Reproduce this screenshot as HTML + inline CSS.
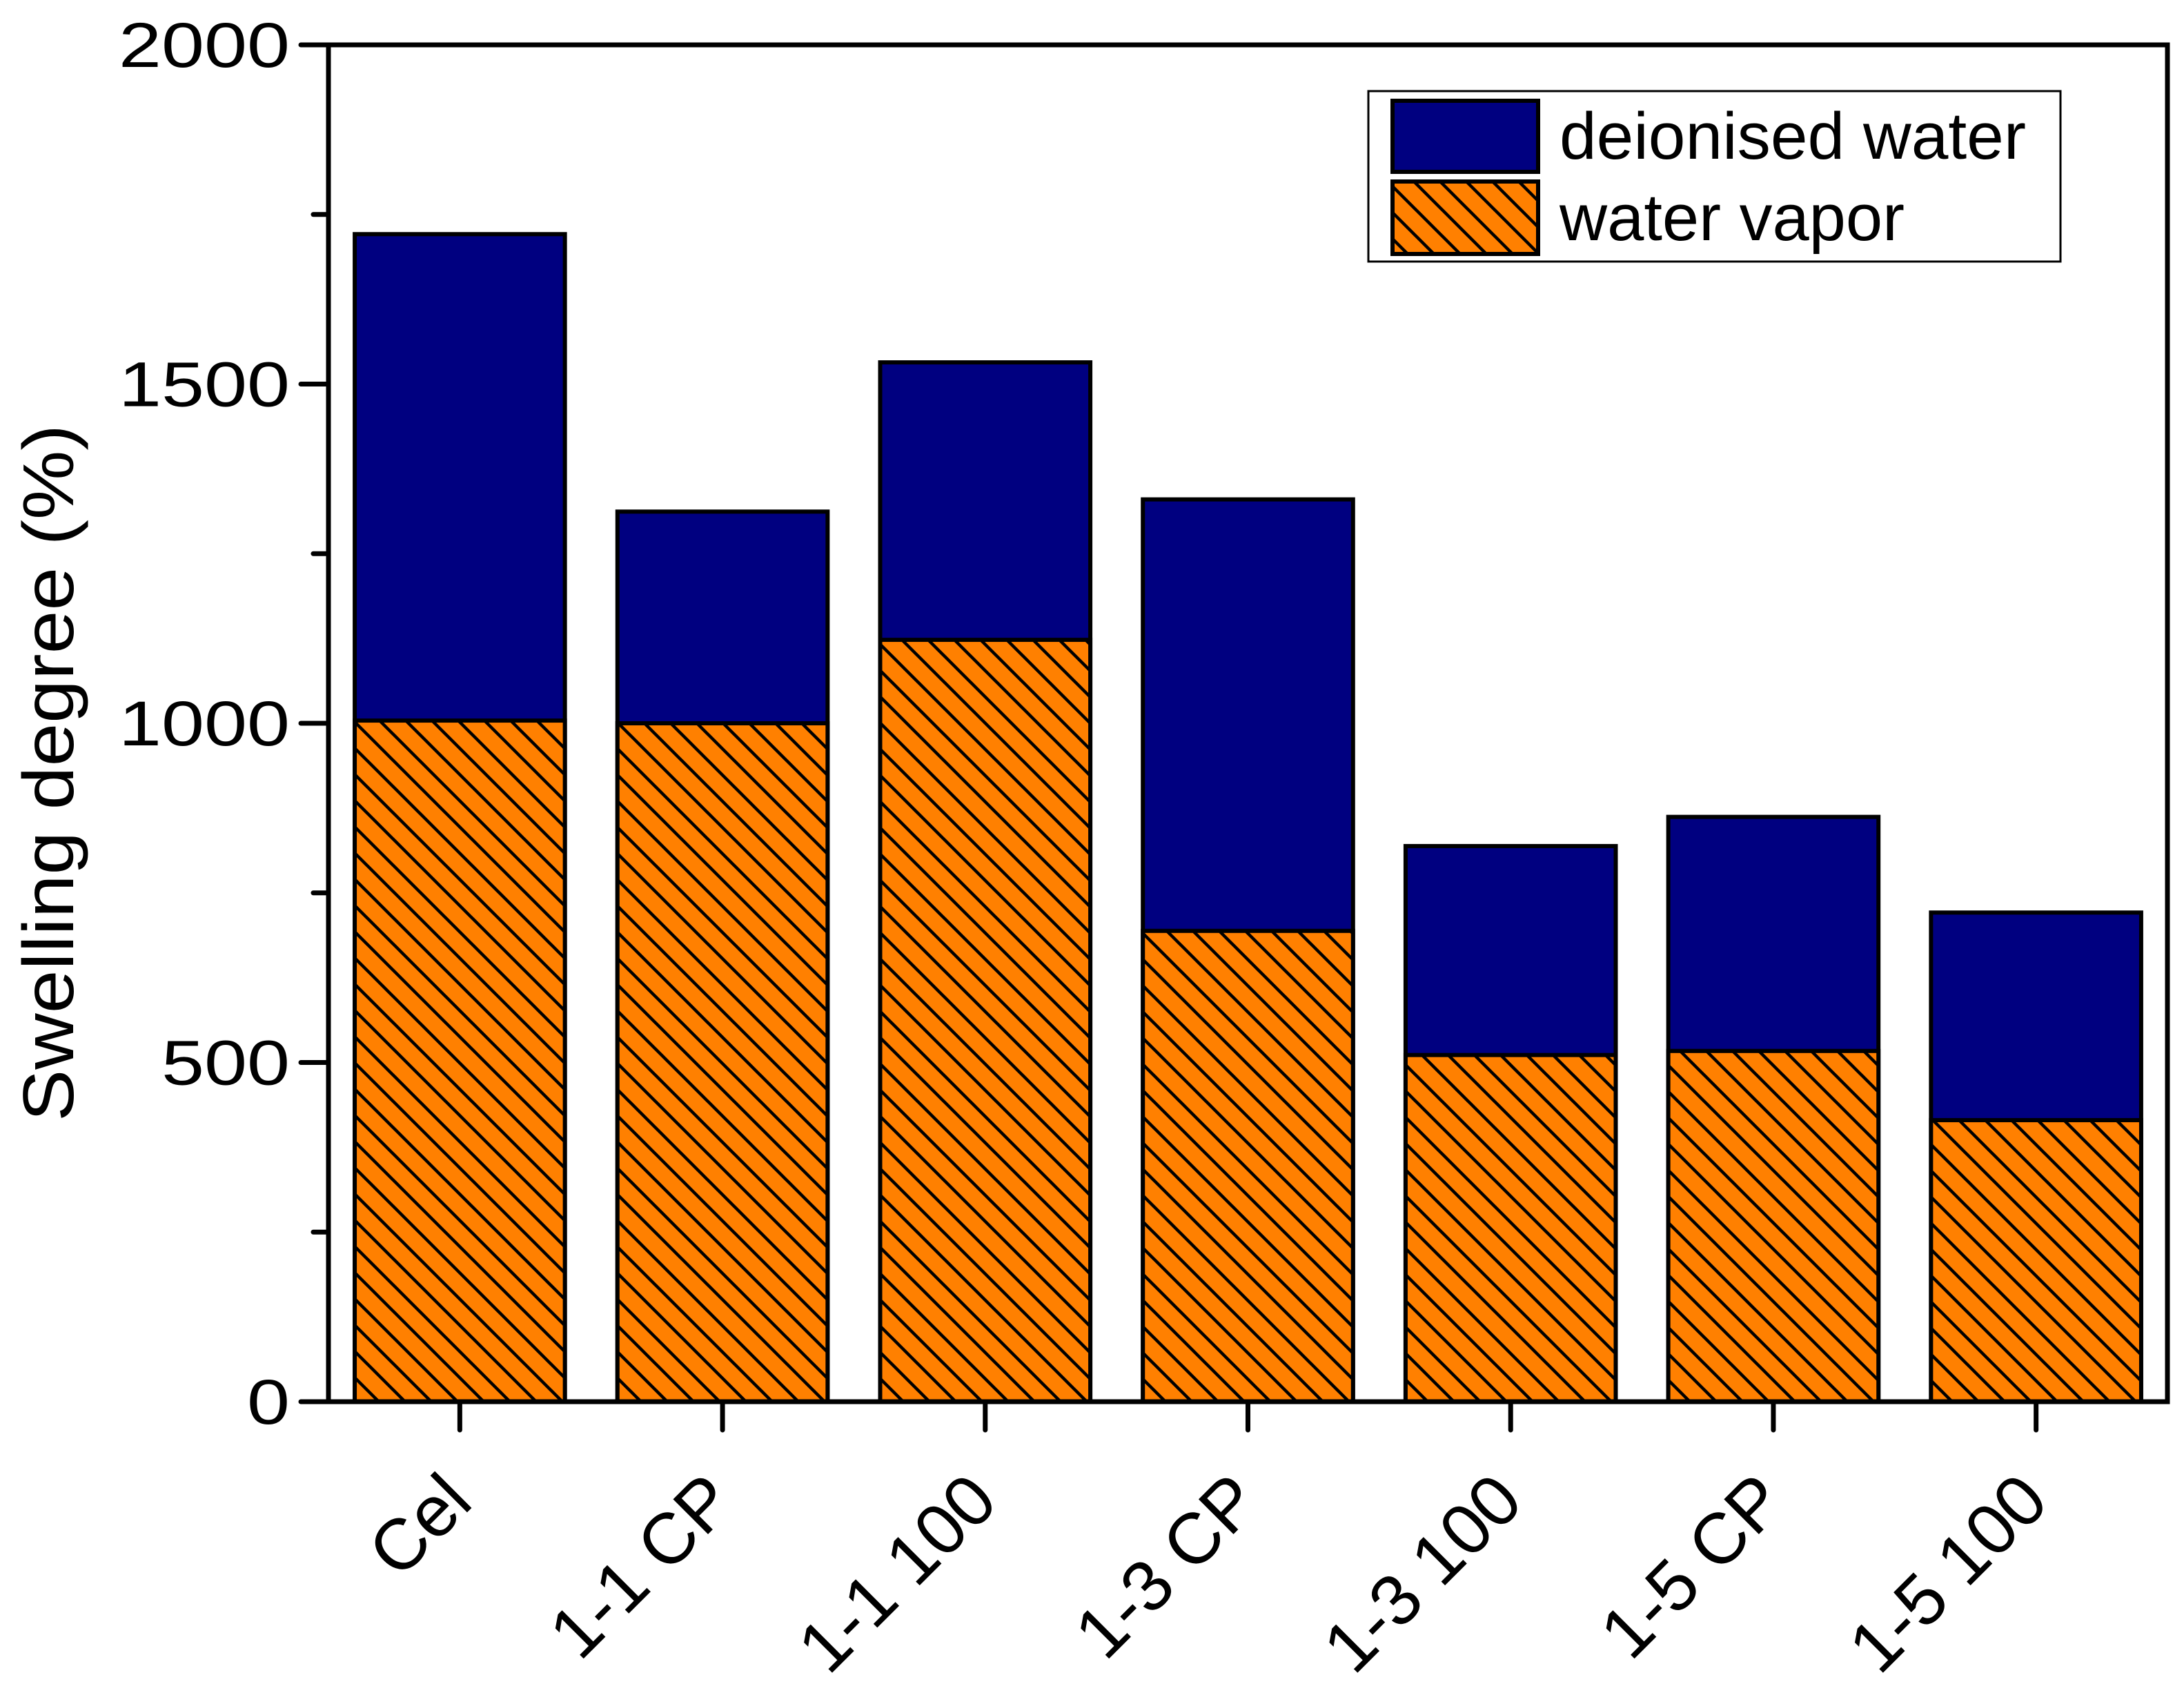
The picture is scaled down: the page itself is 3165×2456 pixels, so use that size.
<!DOCTYPE html>
<html><head><meta charset="utf-8"><style>html,body{margin:0;padding:0;background:#fff}</style></head>
<body>
<svg id="chart" xmlns="http://www.w3.org/2000/svg" width="3165" height="2451" viewBox="0 0 3165 2451" font-family="Liberation Sans, Arial, sans-serif">
<defs>
<pattern id="hatch" patternUnits="userSpaceOnUse" width="38" height="38">
<rect width="38" height="38" fill="#ff8000"/>
<path d="M-10,-10 L48,48 M-10,28 L10,48 M28,-10 L48,10" stroke="#000" stroke-width="4.5"/>
</pattern>
</defs>
<g id="plot"></g>
</svg>
<script>
const categories = ["Cel","1-1 CP","1-1 100","1-3 CP","1-3 100","1-5 CP","1-5 100"];
const deionisedWater = [1721,1312,1532,1330,819,862,721];
const waterVapor = [1004,1000,1123,694,511,517,415];
const yTicks = [0,500,1000,1500,2000];
const yMinorTicks = [250,750,1250,1750];

const NS="http://www.w3.org/2000/svg";
const L=476,R=3141,T=65,B=2031;
const yMax=2000;
function y(v){return B-(v/yMax)*(B-T);}
const band=(R-L)/categories.length;
function xc(i){return L+band*(i+0.5);}
const bw=band*0.8;
const g=document.getElementById('plot');
function el(tag,attrs,parent){const e=document.createElementNS(NS,tag);for(const k in attrs)e.setAttribute(k,attrs[k]);(parent||g).appendChild(e);return e;}

categories.forEach((c,i)=>{
  const b1=el('rect',{x:xc(i)-bw/2,y:y(deionisedWater[i]),width:bw,height:B-y(deionisedWater[i]),fill:'#000080',stroke:'#000','stroke-width':6});
  
  
  const b2=el('rect',{x:xc(i)-bw/2,y:y(waterVapor[i]),width:bw,height:B-y(waterVapor[i]),fill:'url(#hatch)',stroke:'#000','stroke-width':6});
  
  
  const tk=el('line',{x1:xc(i),x2:xc(i),y1:B,y2:B+41,stroke:'#000','stroke-width':7,'stroke-linecap':'round'});
  
  
  const tx=xc(i)+22, ty=2180;
  const t=el('text',{x:tx,y:ty,'font-size':104,'text-anchor':'end',transform:`rotate(-45 ${tx} ${ty})`});
  t.textContent=c;
  
  
});

const fr=el('rect',{x:L,y:T,width:R-L,height:B-T,fill:'none',stroke:'#000','stroke-width':7});



yTicks.forEach(v=>{
  const l=el('line',{x1:L-40,x2:L,y1:y(v),y2:y(v),stroke:'#000','stroke-width':7,'stroke-linecap':'round'});
  
  
  const t=el('text',{x:L-56,y:y(v)+32,'font-size':92,'text-anchor':'end',textLength:String(v).length*62,lengthAdjust:'spacingAndGlyphs'});
  t.textContent=v;
  
  
});
yMinorTicks.forEach(v=>{
  const l=el('line',{x1:L-22,x2:L,y1:y(v),y2:y(v),stroke:'#000','stroke-width':7,'stroke-linecap':'round'});
  
  
});

const yt=el('text',{x:0,y:0,'font-size':104,'text-anchor':'middle',textLength:1010,lengthAdjust:'spacingAndGlyphs',transform:'translate(106 1120) rotate(-90)'});
yt.textContent='Swelling degree (%)';



const lg=el('g',{});


el('rect',{x:1983,y:132,width:1003,height:247,fill:'#fff',stroke:'#000','stroke-width':3},lg);
el('rect',{x:2018,y:146,width:211,height:103,fill:'#000080',stroke:'#000','stroke-width':6},lg);
el('rect',{x:2018,y:263,width:211,height:105,fill:'url(#hatch)',stroke:'#000','stroke-width':6},lg);
const l1=el('text',{x:2260,y:230,'font-size':96,textLength:676,lengthAdjust:'spacingAndGlyphs'},lg);
l1.textContent='deionised water';


const l2=el('text',{x:2260,y:348,'font-size':96,textLength:500,lengthAdjust:'spacingAndGlyphs'},lg);
l2.textContent='water vapor';


</script>
</body></html>
